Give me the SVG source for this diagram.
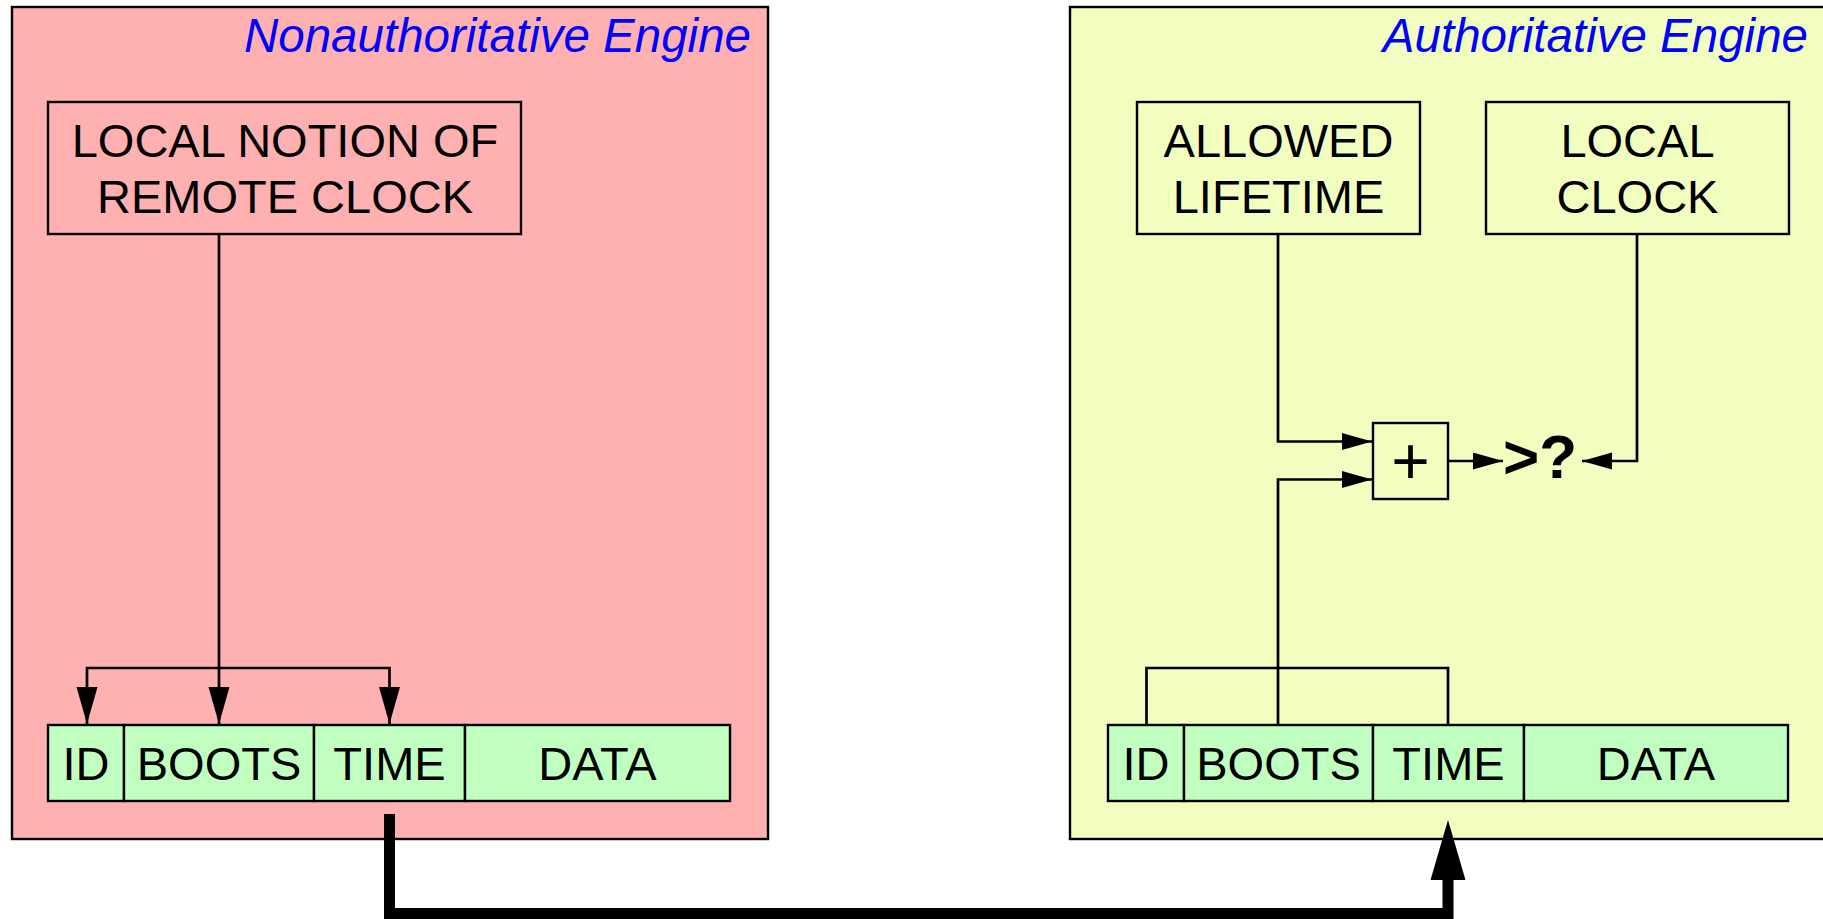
<svg xmlns="http://www.w3.org/2000/svg" width="1823" height="919" viewBox="0 0 1823 919">
<style>
.panel{stroke:#000;stroke-width:2.4}
.box{fill:none;stroke:#000;stroke-width:2.4}
.cell{fill:#C0FFC0;stroke:#000;stroke-width:2.4}
.lbl{font-family:"Liberation Sans",Arial,sans-serif;font-size:47px;fill:#000;text-anchor:middle}
.title{font-family:"Liberation Sans",Arial,sans-serif;font-size:47.5px;font-style:italic;fill:#0000FF;text-anchor:end}
.wire{fill:none;stroke:#000;stroke-width:2.7}
</style>
<defs>
<marker id="big" markerUnits="userSpaceOnUse" markerWidth="38" markerHeight="22" refX="37" refY="10.5" orient="auto"><path d="M0,0 L37,10.5 L0,21 z" fill="#000"/></marker>
<marker id="small" markerUnits="userSpaceOnUse" markerWidth="31" markerHeight="18" refX="30" refY="8.5" orient="auto"><path d="M0,0 L30,8.5 L0,17 z" fill="#000"/></marker>
</defs>
<rect x="0" y="0" width="1823" height="919" fill="#fff"/>
<g id="nonauth-engine">
<rect class="panel" x="12" y="7" width="756" height="832" fill="#FFB1B1"/>
<text class="title" x="751" y="52">Nonauthoritative Engine</text>
</g>
<g id="auth-engine">
<rect class="panel" x="1070" y="7" width="770" height="832" fill="#F2FEC0"/>
<text class="title" x="1808" y="52">Authoritative Engine</text>
</g>
<g id="local-notion">
<rect class="box" x="48" y="102" width="473" height="132"/>
<text class="lbl" x="285" y="157">LOCAL NOTION OF</text>
<text class="lbl" x="285" y="213">REMOTE CLOCK</text>
</g>
<g id="packet-left">
<rect class="cell" x="48" y="725" width="76" height="76"/>
<rect class="cell" x="124" y="725" width="190" height="76"/>
<rect class="cell" x="314" y="725" width="151" height="76"/>
<rect class="cell" x="465" y="725" width="265" height="76"/>
<text class="lbl" x="86" y="780">ID</text>
<text class="lbl" x="219" y="780">BOOTS</text>
<text class="lbl" x="389.5" y="780">TIME</text>
<text class="lbl" x="597.5" y="780">DATA</text>
</g>
<g id="allowed-lifetime">
<rect class="box" x="1137" y="102" width="283" height="132"/>
<text class="lbl" x="1278.5" y="157">ALLOWED</text>
<text class="lbl" x="1278.5" y="213">LIFETIME</text>
</g>
<g id="local-clock">
<rect class="box" x="1486" y="102" width="303" height="132"/>
<text class="lbl" x="1637.5" y="157">LOCAL</text>
<text class="lbl" x="1637.5" y="213">CLOCK</text>
</g>
<g id="plus">
<rect class="box" x="1373" y="423" width="75" height="76"/>
<text x="1410.5" y="484" font-family="Liberation Sans,Arial,sans-serif" font-size="66" text-anchor="middle">+</text>
</g>
<g id="compare">
<text x="1503" y="478" font-family="Liberation Sans,Arial,sans-serif" font-size="62" font-weight="bold">&gt;?</text>
</g>
<g id="packet-right">
<rect class="cell" x="1108" y="725" width="76" height="76"/>
<rect class="cell" x="1184" y="725" width="189" height="76"/>
<rect class="cell" x="1373" y="725" width="151" height="76"/>
<rect class="cell" x="1524" y="725" width="264" height="76"/>
<text class="lbl" x="1146" y="780">ID</text>
<text class="lbl" x="1278.5" y="780">BOOTS</text>
<text class="lbl" x="1448.5" y="780">TIME</text>
<text class="lbl" x="1656" y="780">DATA</text>
</g>
<g id="connectors">
<path class="wire" d="M219,234 V724" marker-end="url(#big)"/>
<path class="wire" d="M219,668 H87 V724" marker-end="url(#big)"/>
<path class="wire" d="M219,668 H389.5 V724" marker-end="url(#big)"/>
<path class="wire" d="M1278,234 V441.5 H1372" marker-end="url(#small)"/>
<path class="wire" d="M1278,725 V479.5 H1372" marker-end="url(#small)"/>
<path class="wire" d="M1146.5,725 V668 H1448 V725"/>
<path class="wire" d="M1448,461 H1503" marker-end="url(#small)"/>
<path class="wire" d="M1637,234 V461 H1582" marker-end="url(#small)"/>
<path d="M389.5,814 V913.5 H1448 V878" fill="none" stroke="#000" stroke-width="11" stroke-linejoin="miter"/>
<polygon points="1448,820 1430.5,880 1465.5,880" fill="#000"/>
</g>
</svg>
